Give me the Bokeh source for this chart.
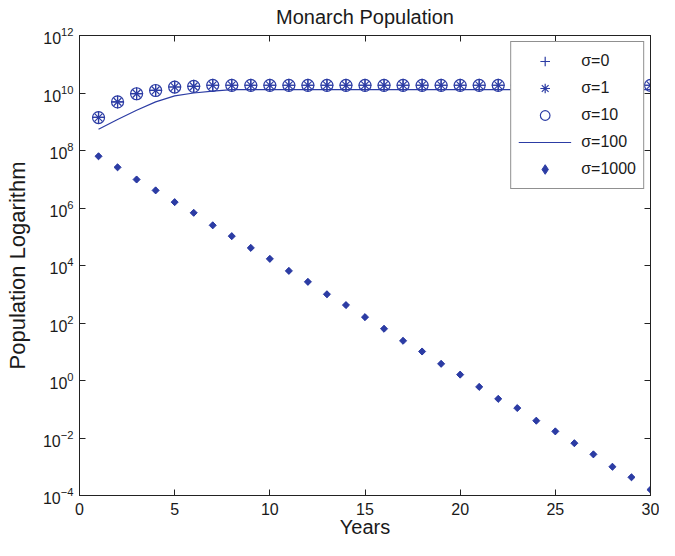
from bokeh.plotting import figure
from bokeh.models import (LogAxis, LinearAxis, FixedTicker, Range1d, Legend,
                          LegendItem, CustomJSTickFormatter)
from bokeh.embed import file_html
from bokeh.resources import INLINE

# ---------------- data ----------------
years = list(range(1, 31))

pop_sigma0 = [1.41e9, 4.9e9, 9.5e9, 1.23e10, 1.62e10, 1.70e10, 1.86e10, 1.86e10,
              1.86e10, 1.86e10, 1.86e10, 1.86e10, 1.86e10, 1.86e10, 1.86e10,
              1.86e10, 1.86e10, 1.86e10, 1.86e10, 1.86e10, 1.86e10, 1.86e10,
              1.86e10, 1.86e10, 1.86e10, 1.86e10, 1.86e10, 1.86e10, 1.86e10, 1.86e10]
pop_sigma1 = [1.41e9, 4.9e9, 9.5e9, 1.23e10, 1.62e10, 1.70e10, 1.86e10, 1.86e10,
              1.86e10, 1.86e10, 1.86e10, 1.86e10, 1.86e10, 1.86e10, 1.86e10,
              1.86e10, 1.86e10, 1.86e10, 1.86e10, 1.86e10, 1.86e10, 1.86e10,
              1.86e10, 1.86e10, 1.86e10, 1.86e10, 1.86e10, 1.86e10, 1.86e10, 1.86e10]
pop_sigma10 = [1.40e9, 4.9e9, 9.4e9, 1.22e10, 1.61e10, 1.70e10, 1.85e10, 1.85e10,
               1.85e10, 1.85e10, 1.85e10, 1.85e10, 1.85e10, 1.85e10, 1.85e10,
               1.85e10, 1.85e10, 1.85e10, 1.85e10, 1.85e10, 1.85e10, 1.85e10,
               1.85e10, 1.85e10, 1.85e10, 1.85e10, 1.85e10, 1.85e10, 1.85e10, 1.85e10]
pop_sigma100 = [5.5e8, 1.2e9, 2.5e9, 4.9e9, 7.9e9, 1.0e10, 1.17e10, 1.32e10,
                1.32e10, 1.32e10, 1.32e10, 1.32e10, 1.32e10, 1.32e10, 1.32e10,
                1.32e10, 1.32e10, 1.32e10, 1.32e10, 1.32e10, 1.32e10, 1.32e10,
                1.32e10, 1.32e10, 1.32e10, 1.32e10, 1.32e10, 1.32e10, 1.32e10, 1.32e10]
pop_sigma1000 = [6.3e7, 2.6e7, 9.8e6, 4.1e6, 1.6e6, 6.8e5, 2.5e5, 1.05e5, 4.1e4,
                 1.7e4, 6.5e3, 2.7e3, 1.0e3, 4.2e2, 1.6e2, 63, 24, 10.2, 3.8, 1.6,
                 0.60, 0.23, 0.11, 0.040, 0.017, 0.0066, 0.0027, 0.0010, 0.00043, 0.00016]

series_labels = ["σ=0", "σ=1", "σ=10", "σ=100", "σ=1000"]
x_ticks = [0, 5, 10, 15, 20, 25, 30]
y_ticks = [1e-4, 1e-2, 1e0, 1e2, 1e4, 1e6, 1e8, 1e10, 1e12]

# ---------------- styling ----------------
FONT = "Liberation Sans"
TXT = "#1a1a1a"
BLUE = "#2c3ca4"

p = figure(width=659, height=540, output_backend="svg", toolbar_location=None,
           x_range=Range1d(0, 30), y_range=Range1d(1e-4, 1e12),
           y_axis_type="log", title="Monarch Population",
           min_border_left=79, min_border_right=9, min_border_top=30,
           min_border_bottom=41)

p.title.align = "center"
p.title.vertical_align = "top"
p.title.text_font = FONT
p.title.text_font_size = "20px"
p.title.text_font_style = "normal"
p.title.text_color = TXT
p.title.standoff = 11

p.grid.visible = False
p.outline_line_color = "#222222"
p.outline_line_width = 1
p.background_fill_color = "white"
p.border_fill_color = "white"

def style_axis(ax):
    ax.axis_line_color = "#222222"
    ax.major_tick_line_color = "#222222"
    ax.major_tick_in = 6
    ax.major_tick_out = 0
    ax.minor_tick_in = 0
    ax.minor_tick_out = 0
    ax.major_label_text_font = FONT
    ax.major_label_text_font_size = "16px"
    ax.major_label_text_color = TXT
    ax.axis_label_text_font = FONT
    ax.axis_label_text_font_size = "20px"
    ax.axis_label_text_font_style = "normal"
    ax.axis_label_text_color = TXT

xa = p.xaxis[0]
style_axis(xa)
xa.ticker = FixedTicker(ticks=x_ticks)
xa.axis_label = "Years"
xa.major_label_standoff = 7
xa.axis_label_standoff = -2

ya = p.yaxis[0]
style_axis(ya)
ya.ticker = FixedTicker(ticks=y_ticks)
ya.axis_label = "Population Logarithm"
ya.axis_label_text_font_size = "22px"
ya.major_label_standoff = 6
ya.axis_label_standoff = 10

blank = CustomJSTickFormatter(code="return ''")
top = LinearAxis(ticker=FixedTicker(ticks=x_ticks), formatter=blank)
style_axis(top)
top.major_label_standoff = 0
top.major_label_text_font_size = "1px"
p.add_layout(top, "above")
right = LogAxis(ticker=FixedTicker(ticks=y_ticks), formatter=blank)
style_axis(right)
right.major_label_standoff = 0
right.major_label_text_font_size = "1px"
p.add_layout(right, "right")

r0 = p.scatter(years, pop_sigma0, marker="cross", size=13, line_color=BLUE, line_width=1.2)
r1 = p.scatter(years, pop_sigma1, marker="asterisk", size=11, line_color=BLUE, line_width=1.2)
r2 = p.scatter(years, pop_sigma10, marker="circle", size=12, line_color=BLUE,
               fill_color=None, line_width=1.2)
r3 = p.line(years, pop_sigma100, line_color=BLUE, line_width=1.2)
r4 = p.scatter(years, pop_sigma1000, marker="diamond", size=6,
               line_color=BLUE, fill_color=BLUE)
p.scatter(years, pop_sigma1000, marker="square", size=5, angle=0.7854,
          line_color=BLUE, fill_color=BLUE)

legend = Legend(items=[LegendItem(label=series_labels[i], renderers=[r])
                       for i, r in enumerate([r0, r1, r2, r3, r4])],
                location="top_right", margin=6, padding=7, spacing=3,
                glyph_width=53, glyph_height=24, label_height=24,
                label_standoff=10, label_text_font=FONT,
                label_text_font_size="16px", label_text_color=TXT,
                border_line_color="#222222", border_line_width=1,
                background_fill_color="white", background_fill_alpha=1.0)
p.add_layout(legend)

open("out.html", "w").write(file_html(p, INLINE))
